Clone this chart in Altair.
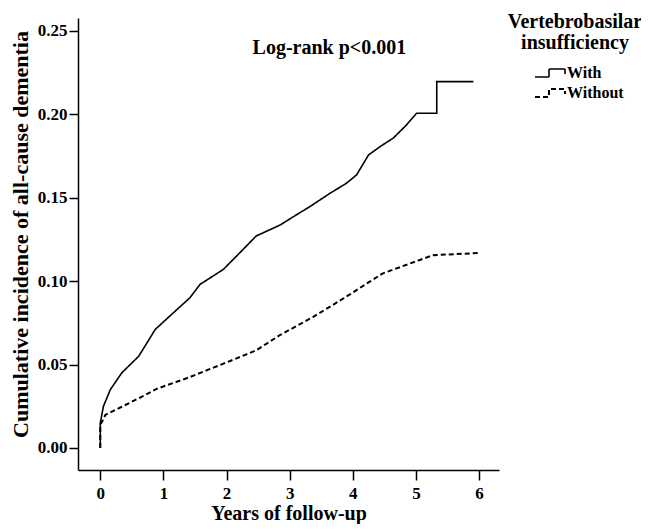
import altair as alt
import pandas as pd

# Solid curve: With vertebrobasilar insufficiency
with_years = [0, 0, 0.05, 0.16, 0.34, 0.61, 0.87, 1.1, 1.42, 1.58, 1.95, 2.16, 2.47,
              2.85, 3.06, 3.32, 3.64, 3.90, 4.06, 4.25, 4.45, 4.64, 4.85, 5.01, 5.33, 5.33, 5.91]
with_inc = [0, 0.015, 0.025, 0.035, 0.045, 0.055, 0.071, 0.079, 0.090, 0.098, 0.107, 0.115, 0.127,
            0.1336, 0.1386, 0.1446, 0.1526, 0.1586, 0.1636, 0.1756, 0.181, 0.1856, 0.1935, 0.2005,
            0.2005, 0.2195, 0.2195]

# Dashed curve: Without
without_years = [0, 0, 0.03, 0.08, 0.34, 0.66, 0.9, 1.42, 1.95, 2.47, 2.85, 3.38, 3.90, 4.27,
                 4.47, 5.05, 5.27, 5.98]
without_inc = [0, 0.014, 0.0158, 0.0198, 0.0247, 0.0307, 0.0355, 0.0425, 0.0505, 0.0585, 0.0677,
               0.0787, 0.0907, 0.0997, 0.1045, 0.1125, 0.1155, 0.1168]

groups = ["With", "Without"]
x_ticks = [0, 1, 2, 3, 4, 5, 6]
y_ticks = [0.0, 0.05, 0.10, 0.15, 0.20, 0.25]
annotation = "Log-rank p<0.001"
annot_x, annot_y = 3.63, 0.2397

FONT = "Liberation Serif"

rows = []
for i, (t, v) in enumerate(zip(with_years, with_inc)):
    rows.append({"group": "With", "order": i, "t": t, "v": v})
for i, (t, v) in enumerate(zip(without_years, without_inc)):
    rows.append({"group": "Without", "order": i, "t": t, "v": v})
df = pd.DataFrame(rows)

xscale = alt.Scale(domain=[-0.353, 6.316], nice=False, zero=False)
yscale = alt.Scale(domain=[-0.0132, 0.2576], nice=False, zero=False)

# step-shaped legend icon (like the SPSS legend)
step_path = "M-2.0,0.4 L-0.6,0.4 L-0.6,-0.4 L1.0,-0.4 L1.0,0.1"

lines = alt.Chart(df).mark_line(color="black", clip=True).encode(
    x=alt.X("t:Q", scale=xscale,
            axis=alt.Axis(values=x_ticks, title="Years of follow-up", format="d")),
    y=alt.Y("v:Q", scale=yscale,
            axis=alt.Axis(values=y_ticks, format=".2f", titleY=216,
                          title="Cumulative incidence of all-cause dementia")),
    order="order:Q",
    strokeDash=alt.StrokeDash(
        "group:N",
        scale=alt.Scale(domain=groups, range=[[1, 0], [5, 3]]),
        legend=alt.Legend(
            title=["Vertebrobasilar", "insufficiency"],
            orient="none", legendX=430, legendY=-6,
            titleAnchor="middle", titleAlign="center",
            titleFont=FONT, titleFontSize=20, titleFontWeight="bold",
            titleColor="black", titleLineHeight=21, titlePadding=9,
            labelFont=FONT, labelFontSize=16, labelFontWeight="bold",
            labelColor="black", labelOffset=1,
            symbolType=step_path, symbolSize=400, symbolStrokeWidth=1.5,
            symbolStrokeColor="black", symbolFillColor="transparent",
            symbolOffset=18, rowPadding=1, padding=0,
        ),
    ),
    strokeWidth=alt.StrokeWidth(
        "group:N", scale=alt.Scale(domain=groups, range=[1.6, 2.0]), legend=None
    ),
)

ann_df = pd.DataFrame({"t": [annot_x], "v": [annot_y], "label": [annotation]})
text = alt.Chart(ann_df).mark_text(
    font=FONT, fontSize=20, fontWeight="bold", color="black",
    align="center", baseline="middle"
).encode(x=alt.X("t:Q", scale=xscale), y=alt.Y("v:Q", scale=yscale), text="label:N")

chart = alt.layer(lines, text).properties(
    width=421, height=452,
    autosize=alt.AutoSizeParams(type="none"),
    padding={"left": 70, "top": 10, "right": 142, "bottom": 54},
).configure_view(stroke=None).configure_axis(
    grid=False,
    domainColor="black", domainWidth=1.5,
    tickColor="black", tickWidth=1.5,
    labelFont=FONT, labelFontSize=17, labelFontWeight="bold", labelColor="black",
    titleFont=FONT, titleFontWeight="bold", titleColor="black",
).configure_axisX(
    tickSize=10, labelPadding=5, titlePadding=2, titleFontSize=20,
).configure_axisY(
    tickSize=9, labelPadding=2, titlePadding=5, titleFontSize=22,
)

chart.save("out.html", embed_options={"renderer": "svg", "actions": False})
